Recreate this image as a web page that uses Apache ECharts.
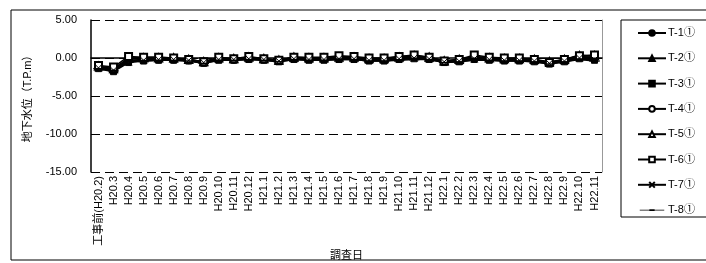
<!DOCTYPE html>
<html><head><meta charset="utf-8">
<script src="https://cdn.jsdelivr.net/npm/echarts@6/dist/echarts.min.js"></script>
<style>html,body{margin:0;padding:0;background:#fff}#c{width:706px;height:263px}</style>
</head><body><div id="c"></div>
<script>
const categories = ['工事前(H20.2)','H20.3','H20.4','H20.5','H20.6','H20.7','H20.8','H20.9','H20.10','H20.11','H20.12',
 'H21.1','H21.2','H21.3','H21.4','H21.5','H21.6','H21.7','H21.8','H21.9','H21.10','H21.11','H21.12',
 'H22.1','H22.2','H22.3','H22.4','H22.5','H22.6','H22.7','H22.8','H22.9','H22.10','H22.11'];
const seriesNames = ['T-1①','T-2①','T-3①','T-4①','T-5①','T-6①','T-7①','T-8①'];
const t1 = [-1.3,-1.6,-0.4,-0.2,-0.1,-0.2,-0.3,-0.6,-0.2,-0.3,-0.1,-0.2,-0.4,-0.1,-0.2,-0.2,0.0,-0.1,-0.3,-0.3,0.0,0.1,-0.1,-0.5,-0.4,0.0,-0.2,-0.3,-0.3,-0.4,-0.7,-0.4,0.1,0.0];
const t2 = [-1.1,-1.4,-0.2,0.1,0.1,0.0,-0.2,-0.5,0.0,-0.1,0.1,-0.1,-0.3,0.1,0.0,0.0,0.2,0.1,-0.1,-0.1,0.2,0.3,0.1,-0.4,-0.2,0.2,0.0,-0.1,-0.1,-0.2,-0.6,-0.2,0.4,0.2];
const t3 = [-1.4,-1.8,-0.6,-0.4,-0.3,-0.3,-0.4,-0.7,-0.3,-0.3,-0.2,-0.3,-0.5,-0.2,-0.3,-0.3,-0.2,-0.2,-0.4,-0.4,-0.2,-0.1,-0.2,-0.6,-0.5,-0.2,-0.3,-0.4,-0.4,-0.5,-0.8,-0.5,-0.1,-0.3];
const t4 = [-1.2,-1.5,-0.3,-0.2,-0.2,-0.2,-0.3,-0.6,-0.1,-0.2,0.0,-0.2,-0.4,0.0,-0.1,-0.1,0.0,0.0,-0.2,-0.2,0.0,0.2,0.0,-0.5,-0.3,0.1,-0.1,-0.2,-0.2,-0.3,-0.6,-0.3,0.2,0.1];
const t5 = [-1.1,-1.4,0.0,0.0,0.0,0.0,-0.2,-0.5,0.0,-0.1,0.1,-0.1,-0.3,0.1,0.0,0.0,0.1,0.1,-0.1,-0.1,0.1,0.3,0.1,-0.4,-0.2,0.2,0.0,-0.1,-0.1,-0.2,-0.5,-0.2,0.3,0.3];
const t6 = [-1.0,-1.2,0.2,0.1,0.1,0.0,-0.2,-0.5,0.1,-0.1,0.2,-0.1,-0.3,0.1,0.1,0.1,0.3,0.2,0.0,0.0,0.2,0.4,0.1,-0.4,-0.2,0.4,0.1,0.0,0.0,-0.2,-0.6,-0.2,0.3,0.4];
const t7 = [-1.3,-1.6,-0.5,-0.3,-0.2,-0.2,-0.3,-0.6,-0.2,-0.2,-0.1,-0.2,-0.4,-0.1,-0.2,-0.2,-0.1,-0.1,-0.3,-0.3,-0.1,0.0,-0.1,-0.5,-0.4,-0.1,-0.2,-0.3,-0.3,-0.4,-0.7,-0.4,0.0,-0.2];
const t8 = [-1.4,-1.7,-0.5,-0.4,-0.3,-0.3,-0.4,-0.7,-0.3,-0.3,-0.2,-0.3,-0.5,-0.2,-0.3,-0.3,-0.2,-0.2,-0.4,-0.4,-0.3,-0.2,-0.2,-0.6,-0.5,-0.3,-0.3,-0.4,-0.4,-0.5,-0.8,-0.5,-0.2,-0.4];
const yMin = -15, yMax = 5, yStep = 5;

const FONT = '"Liberation Sans", "Noto Sans CJK JP", sans-serif';
const symbols = [
  {symbol:'circle', size:6},
  {symbol:'triangle', size:7},
  {symbol:'rect', size:6},
  {symbol:'emptyCircle', size:6},
  {symbol:'emptyTriangle', size:7},
  {symbol:'emptyRect', size:7},
  {symbol:'path://M0,0L10,10M10,0L0,10', size:7},
  {symbol:'path://M0,0H10V2H0Z', size:[7,2]}
];
const allData = [t1,t2,t3,t4,t5,t6,t7,t8];
const series = allData.map((d,i)=>({
  name: seriesNames[i], type:'line', data:d, yAxisIndex:0,
  symbol: symbols[i].symbol, symbolSize: symbols[i].size, showAllSymbol:true, symbolKeepAspect:true,
  lineStyle:{color:'#000', width:1.5},
  itemStyle:{color:'#000', borderColor:'#000', borderWidth:1, opacity:1},
  emphasis:{disabled:true}, animation:false
}));
const dashIcon = 'path://M0,0h0.01v0.01h-0.01Z M0,3.6H28V4.4H0Z M11,3H17V5H11Z M27.99,7.99h0.01v0.01h-0.01Z';
const legendData = seriesNames.map((n,i)=> i===7 ? {name:n, icon:dashIcon, itemStyle:{borderWidth:0, color:'#000'}} : {name:n});

const chart = echarts.init(document.getElementById('c'), null, {renderer:'canvas'});
chart.setOption({
  animation:false,
  textStyle:{fontFamily:FONT},
  graphic:[
    {type:'rect', shape:{x:11, y:10, width:720, height:250}, style:{fill:'none', stroke:'#000', lineWidth:1}, z:-1},
    {type:'rect', shape:{x:621, y:20, width:120, height:197}, style:{fill:'none', stroke:'#000', lineWidth:1}, z:-1}
  ],
  grid:{left:91, top:20, right:104, bottom:91, containLabel:false, outerBoundsMode:'none'},
  legend:{
    orient:'vertical', left:632, top:22,
    itemWidth:28, itemHeight:7, itemGap:13.3,
    data: legendData,
    textStyle:{fontFamily:FONT, fontSize:11, color:'#000', lineHeight:12, padding:[0,0,0,-3]},
    inactiveColor:'#000'
  },
  xAxis:{
    type:'category', data:categories, boundaryGap:true,
    axisLine:{lineStyle:{color:'#000', width:1.5}},
    axisTick:{inside:true, length:4, lineStyle:{color:'#000'}, alignWithLabel:false},
    axisLabel:{rotate:90, interval:0, fontSize:11, color:'#000', margin:4, fontFamily:FONT},
    name:'調査日', nameLocation:'middle', nameGap:78, nameMoveOverlap:false,
    nameTextStyle:{fontSize:11, color:'#000', fontFamily:FONT}
  },
  yAxis:[{
    type:'value', min:yMin, max:yMax, interval:yStep,
    axisLine:{show:true, lineStyle:{color:'#000', width:1.5}},
    axisTick:{show:true, inside:true, length:4, lineStyle:{color:'#000'}},
    axisLabel:{formatter:v=>v.toFixed(2), fontSize:11, color:'#000', margin:14, fontFamily:FONT},
    splitLine:{show:true, lineStyle:{color:'#000', type:[9,5], width:1}},
    name:'地下水位（T.P.m）', nameLocation:'middle', nameGap:58, nameRotate:90, nameMoveOverlap:false,
    nameTextStyle:{fontSize:11, color:'#000', fontFamily:FONT}
  },{
    type:'value', min:yMin, max:yMax, interval:yStep, position:'right',
    axisLine:{show:true, lineStyle:{color:'#999', width:1}},
    axisTick:{show:false}, axisLabel:{show:false}, splitLine:{show:false}
  }],
  series: series
});
</script></body></html>
